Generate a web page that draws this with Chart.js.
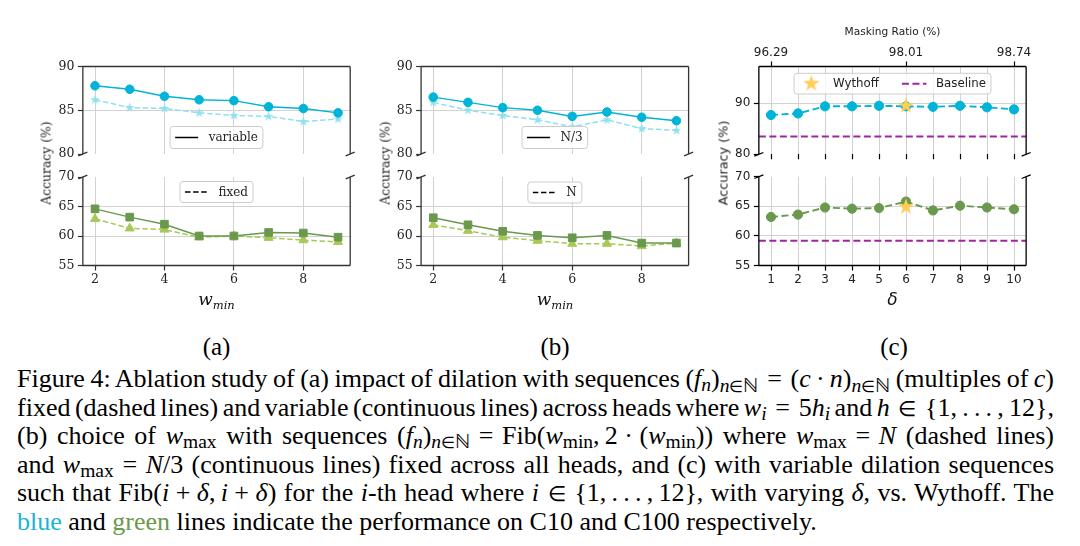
<!DOCTYPE html>
<html><head><meta charset="utf-8">
<script src="https://cdn.jsdelivr.net/npm/chart.js@4.4.1/dist/chart.umd.min.js"></script>
<style>
html,body{margin:0;padding:0;background:#fff;width:1080px;height:546px;overflow:hidden;position:relative}
canvas{position:absolute}
.t{position:absolute;white-space:nowrap;color:#111;z-index:5}
.ylab{position:absolute;white-space:nowrap;font-size:12.4px;color:#222;transform:translate(-50%,-50%) rotate(-90deg);z-index:5}
.cap{position:absolute;left:17px;font-family:'Liberation Serif',serif;font-size:26px;line-height:28px;white-space:nowrap;color:#000;z-index:5}
.cap sub{font-size:0.75em;vertical-align:-0.22em;line-height:0}
.cap .in{font-size:0.8em}
.plab{position:absolute;font-family:'Liberation Serif',serif;font-size:25px;line-height:28px;transform:translateX(-50%);z-index:5}
</style></head><body>
<script>
// ---------------- data ----------------
const wmin = [2, 3, 4, 5, 6, 7, 8, 9];
const xTicksAB = [2, 4, 6, 8];
// (a) dilation: variable (solid) vs fixed (dashed)
const aVariableC10  = [87.8, 87.4, 86.6, 86.2, 86.1, 85.4, 85.2, 84.7];
const aFixedC10     = [86.2, 85.3, 85.2, 84.7, 84.4, 84.3, 83.7, 84.0];
const aVariableC100 = [64.6, 63.2, 62.0, 60.0, 60.0, 60.6, 60.5, 59.8];
const aFixedC100    = [62.9, 61.3, 61.1, 59.8, 60.0, 59.7, 59.3, 59.0];
// (b) w_max: N/3 (solid) vs N (dashed)
const bN3C10  = [86.5, 85.9, 85.3, 85.0, 84.3, 84.8, 84.2, 83.8];
const bNC10   = [85.9, 85.0, 84.4, 83.9, 83.1, 83.9, 82.9, 82.7];
const bN3C100 = [63.1, 61.9, 60.8, 60.1, 59.7, 60.1, 58.8, 58.8];
const bNC100  = [61.9, 60.9, 59.8, 59.2, 58.7, 58.7, 58.3, 58.8];
// (c) delta
const delta = [1, 2, 3, 4, 5, 6, 7, 8, 9, 10];
const cC10  = [87.7, 88.0, 89.4, 89.4, 89.5, 89.4, 89.3, 89.5, 89.2, 88.8];
const cC100 = [63.2, 63.6, 64.8, 64.6, 64.7, 65.8, 64.3, 65.1, 64.8, 64.5];
const wythoffDelta = [6];
const wythoffC10  = [89.5];
const wythoffC100 = [64.9];
const baselineC10  = 83.5;
const baselineC100 = 59.2;
const maskTicks  = [1, 6, 10];
const maskLabels = ['96.29', '98.01', '98.74'];
const yTicksTop = [80, 85, 90];
const yTicksBot = [55, 60, 65, 70];
const yTicksTopC = [80, 90];

// ---------------- style ----------------
const BLUE = '#00b4d8', LBLUE = '#90e0ef', GREEN = '#6a994e', LGREEN = '#a7c957';
const PURPLE = '#9c27a0', GOLD = '#ffce54', GRID = '#d2d2d2';
Chart.defaults.font.family = 'DejaVu Sans';
Chart.defaults.color = '#222';

function pts(xs, ys) { return xs.map((x, i) => ({x: x, y: ys[i]})); }

function starImg(d, color) {
  const c = document.createElement('canvas'); c.width = c.height = d;
  const g = c.getContext('2d'); const R = d / 2 - 0.3, r = R * 0.382;
  g.beginPath();
  for (let i = 0; i < 10; i++) {
    const a = -Math.PI / 2 + i * Math.PI / 5, rr = i % 2 ? r : R;
    g.lineTo(d / 2 + rr * Math.cos(a), d / 2 + rr * Math.sin(a));
  }
  g.closePath(); g.fillStyle = color; g.fill();
  return c;
}
const smallStar = starImg(11, LBLUE);
const bigStar = starImg(18, GOLD);

function mkCanvas(box) {
  const c = document.createElement('canvas');
  c.width = box[2] - box[0]; c.height = box[3] - box[1];
  c.style.left = box[0] + 'px'; c.style.top = box[1] + 'px';
  document.body.appendChild(c); return c;
}

function framePlugin(o) {
  return {id: 'frame', afterDraw(chart) {
    const ctx = chart.ctx, a = chart.chartArea;
    ctx.save(); ctx.strokeStyle = o.color; ctx.lineWidth = 1.3; ctx.setLineDash([]);
    ctx.beginPath();
    if (o.sides.includes('top')) { ctx.moveTo(a.left, a.top); ctx.lineTo(a.right, a.top); }
    if (o.sides.includes('bottom')) { ctx.moveTo(a.left, a.bottom); ctx.lineTo(a.right, a.bottom); }
    ctx.moveTo(a.left, a.top); ctx.lineTo(a.left, a.bottom);
    ctx.moveTo(a.right, a.top); ctx.lineTo(a.right, a.bottom);
    ctx.stroke();
    const y = o.brk === 'bottom' ? a.bottom : a.top;
    ctx.beginPath();
    [a.left, a.right].forEach(x => { ctx.moveTo(x - 4.5, y + 1.8); ctx.lineTo(x + 4.5, y - 1.8); });
    ctx.stroke();
    ctx.restore();
  }};
}

function legendPlugin(o) {
  return {id: 'boxlegend', afterDatasetsDraw(chart) {
    if (!o || !o.items || !o.items.length) return;
    const ctx = chart.ctx, a = chart.chartArea;
    ctx.save(); ctx.font = o.font;
    const padX = 5, hl = o.hl || 23, hg = o.hg || 10.5, colGap = o.colGap || 22, h = o.h || 21.5;
    const widths = o.items.map(it => hl + hg + ctx.measureText(it.text).width);
    const W = padX * 2 + widths.reduce((s, v) => s + v, 0) + colGap * (o.items.length - 1);
    const x0 = (a.left + a.right) / 2 - W / 2;
    const y0 = o.loc === 'lower' ? a.bottom - o.off - h : a.top + o.off;
    ctx.beginPath(); ctx.roundRect(x0, y0, W, h, 3);
    ctx.fillStyle = 'rgba(255,255,255,0.8)'; ctx.fill();
    ctx.strokeStyle = '#cccccc'; ctx.lineWidth = 1; ctx.stroke();
    let x = x0 + padX; const yc = y0 + h / 2;
    o.items.forEach((it, i) => {
      if (it.img) {
        ctx.drawImage(it.img, x + hl / 2 - it.img.width / 2, yc - it.img.height / 2);
      } else {
        ctx.beginPath(); ctx.setLineDash(it.dash || []); ctx.strokeStyle = it.color; ctx.lineWidth = it.lw || 1.5;
        ctx.moveTo(x, yc); ctx.lineTo(x + hl, yc); ctx.stroke(); ctx.setLineDash([]);
      }
      ctx.fillStyle = '#222'; ctx.textBaseline = 'middle'; ctx.textAlign = 'left';
      ctx.fillText(it.text, x + hl + hg, yc + 0.5);
      x += widths[i] + colGap;
    });
    ctx.restore();
  }};
}

function yScale(min, max, ticks, padL, family, fsize, tcol) {
  return {type: 'linear', position: 'left', min: min, max: max,
    afterBuildTicks: s => { s.ticks = ticks.map(v => ({value: v})); },
    afterFit: s => { s.width = padL; },
    ticks: {font: {family: family, size: fsize}, color: '#222', padding: 3.5},
    grid: {color: c => (c.tick && (c.tick.value === min || c.tick.value === max)) ? 'rgba(0,0,0,0)' : GRID,
           lineWidth: 1, tickColor: tcol, tickLength: 5, tickWidth: 1.2, drawTicks: true},
    border: {display: false}};
}
function xScale(min, max, ticks, padB, family, fsize, tcol, showLabels, drawTicks, title) {
  return {type: 'linear', position: 'bottom', min: min, max: max,
    afterBuildTicks: s => { s.ticks = ticks.map(v => ({value: v})); },
    afterFit: s => { s.height = padB; },
    ticks: {display: showLabels, font: {family: family, size: fsize}, color: '#222', padding: 2, autoSkip: false, maxRotation: 0},
    grid: {color: GRID, lineWidth: 1, tickColor: tcol, tickLength: 5, tickWidth: 1.2, drawTicks: drawTicks},
    title: title || {display: false},
    border: {display: false}};
}

function line(data, color, opt) {
  return Object.assign({data: data, borderColor: color, backgroundColor: color, pointBackgroundColor: color,
    pointBorderColor: color, borderWidth: 1.5, pointRadius: 4.3, pointBorderWidth: 1, tension: 0, fill: false}, opt);
}

function panel(box, rect, cfg) {
  const c = mkCanvas(box);
  const padL = rect[0] - box[0], padT = rect[1] - box[1], padR = box[2] - rect[2], padB = box[3] - rect[3];
  const scales = {
    x: xScale(cfg.xmin, cfg.xmax, cfg.xticks, padB, cfg.family, cfg.fsize, cfg.tcol, cfg.xlabels, cfg.xdrawTicks, cfg.xtitle),
    y: yScale(cfg.ymin, cfg.ymax, cfg.yticks, padL, cfg.family, cfg.fsize, cfg.tcol)
  };
  if (cfg.top) {
    scales.xTop = {type: 'linear', position: 'top', min: cfg.xmin, max: cfg.xmax,
      afterBuildTicks: s => { s.ticks = cfg.top.ticks.map(v => ({value: v})); },
      afterFit: s => { s.height = padT; },
      ticks: {font: {family: cfg.family, size: cfg.fsize}, color: '#222', padding: 1.5, autoSkip: false, maxRotation: 0,
              callback: v => cfg.top.labels[cfg.top.ticks.indexOf(v)]},
      grid: {drawOnChartArea: false, tickColor: cfg.tcol, tickLength: 5, tickWidth: 1.2},
      title: {display: true, text: cfg.top.title, font: {family: cfg.family, size: 10.6}, color: '#222', padding: {top: 32.7 - box[1] - 6.4, bottom: 0}},
      border: {display: false}};
  }
  return new Chart(c, {
    type: 'line',
    data: {datasets: cfg.datasets},
    options: {responsive: false, animation: false, events: [], devicePixelRatio: 1,
      layout: {padding: {left: 0, right: padR, top: cfg.top ? 0 : padT, bottom: 0}},
      plugins: {legend: {display: false}, tooltip: {enabled: false}},
      scales: scales},
    plugins: [framePlugin({sides: cfg.sides, color: cfg.tcol, brk: cfg.brk}), legendPlugin(cfg.legend)]
  });
}

const TOPY = [66.5, 156.5], BOTY = [175.5, 265.5];
const AX = [82.85, 350.2], BX = [421.1, 688.6], CX = [758.85, 1026.15];
const SERIF = 'DejaVu Serif', SANS = 'DejaVu Sans';
const dashLight = {borderDash: [5.5, 2.6]};

// (a) top
panel([36, 55, 365, 165], [AX[0], TOPY[0], AX[1], TOPY[1]], {
  xmin: 1.65, xmax: 9.35, xticks: xTicksAB, ymin: 80, ymax: 90, yticks: yTicksTop, family: SERIF, fsize: 12.5, tcol: '#333',
  xlabels: false, xdrawTicks: false, sides: ['top'], brk: 'bottom',
  legend: {loc: 'lower', off: 5.5, h: 22, font: '12px "DejaVu Serif"', items: [{text: 'variable', color: '#000'}]},
  datasets: [line(pts(wmin, aVariableC10), BLUE, {order: 0}),
             line(pts(wmin, aFixedC10), LBLUE, Object.assign({order: 1, pointStyle: smallStar}, dashLight))]
});
// (a) bottom
panel([36, 166, 365, 292], [AX[0], BOTY[0], AX[1], BOTY[1]], {
  xmin: 1.65, xmax: 9.35, xticks: xTicksAB, ymin: 55, ymax: 70, yticks: yTicksBot, family: SERIF, fsize: 12.5, tcol: '#333',
  xlabels: true, xdrawTicks: true, sides: ['bottom'], brk: 'top',
  legend: {loc: 'upper', off: 4.5, h: 21, font: '12px "DejaVu Serif"', items: [{text: 'fixed', color: '#000', dash: [5.5, 2.6]}]},
  datasets: [line(pts(wmin, aVariableC100), GREEN, {order: 0, pointStyle: 'rect', pointRadius: 5.4}),
             line(pts(wmin, aFixedC100), LGREEN, Object.assign({order: 1, pointStyle: 'triangle', pointRadius: 5.2}, dashLight))]
});
// (b) top
panel([375, 55, 704, 165], [BX[0], TOPY[0], BX[1], TOPY[1]], {
  xmin: 1.65, xmax: 9.35, xticks: xTicksAB, ymin: 80, ymax: 90, yticks: yTicksTop, family: SERIF, fsize: 12.5, tcol: '#333',
  xlabels: false, xdrawTicks: false, sides: ['top'], brk: 'bottom',
  legend: {loc: 'lower', off: 5.5, h: 22, font: '12px "DejaVu Serif"', items: [{text: 'N/3', color: '#000'}]},
  datasets: [line(pts(wmin, bN3C10), BLUE, {order: 0}),
             line(pts(wmin, bNC10), LBLUE, Object.assign({order: 1, pointStyle: smallStar}, dashLight))]
});
// (b) bottom
panel([375, 166, 704, 292], [BX[0], BOTY[0], BX[1], BOTY[1]], {
  xmin: 1.65, xmax: 9.35, xticks: xTicksAB, ymin: 55, ymax: 70, yticks: yTicksBot, family: SERIF, fsize: 12.5, tcol: '#333',
  xlabels: true, xdrawTicks: true, sides: ['bottom'], brk: 'top',
  legend: {loc: 'upper', off: 5, h: 21, font: '12px "DejaVu Serif"', items: [{text: 'N', color: '#000', dash: [5.5, 2.6]}]},
  datasets: [line(pts(wmin, bN3C100), GREEN, {order: 0, pointStyle: 'rect', pointRadius: 5.4}),
             line(pts(wmin, bNC100), LGREEN, Object.assign({order: 1, pointStyle: 'triangle', pointRadius: 5.2}, dashLight))]
});
// (c) top
const dashC = {borderDash: [7, 3.5], borderWidth: 1.9, pointRadius: 4.6};
panel([713, 18, 1065, 165], [CX[0], TOPY[0], CX[1], TOPY[1]], {
  xmin: 0.55, xmax: 10.45, xticks: delta, ymin: 80, ymax: 97.2, yticks: yTicksTopC, family: SANS, fsize: 12, tcol: '#000',
  xlabels: false, xdrawTicks: true, sides: ['top'], brk: 'bottom',
  top: {ticks: maskTicks, labels: maskLabels, title: 'Masking Ratio (%)'},
  legend: {loc: 'upper', off: 6.8, h: 20.7, hl: 24.5, hg: 9.5, colGap: 23, font: '11.8px "DejaVu Sans"',
           items: [{text: 'Wythoff', img: bigStar}, {text: 'Baseline', color: PURPLE, dash: [7, 3.5], lw: 2}]},
  datasets: [
    line(pts(wythoffDelta, wythoffC10), GOLD, {order: 0, pointStyle: bigStar, showLine: false}),
    line(pts(delta, cC10), BLUE, Object.assign({order: 1}, dashC)),
    line(pts([0.55, 10.45], [baselineC10, baselineC10]), PURPLE, {order: 2, borderDash: [7, 3.5], borderWidth: 2, pointRadius: 0})
  ]
});
// (c) bottom
panel([713, 166, 1065, 314], [CX[0], BOTY[0], CX[1], BOTY[1]], {
  xmin: 0.55, xmax: 10.45, xticks: delta, ymin: 55, ymax: 70, yticks: yTicksBot, family: SANS, fsize: 12, tcol: '#000',
  xlabels: true, xdrawTicks: true, sides: ['bottom'], brk: 'top',
  xtitle: {display: true, text: 'δ', font: {family: SANS, style: 'italic', size: 17}, color: '#111', padding: {top: 0, bottom: 2.8}},
  legend: null,
  datasets: [
    line(pts(wythoffDelta, wythoffC100), GOLD, {order: 0, pointStyle: bigStar, showLine: false}),
    line(pts(delta, cC100), GREEN, Object.assign({order: 1}, dashC)),
    line(pts([0.55, 10.45], [baselineC100, baselineC100]), PURPLE, {order: 2, borderDash: [7, 3.5], borderWidth: 2, pointRadius: 0})
  ]
});
</script>

<div class="ylab" style="left:46px;top:163px;font-family:'DejaVu Serif'">Accuracy (%)</div>
<div class="ylab" style="left:385px;top:163px;font-family:'DejaVu Serif'">Accuracy (%)</div>
<div class="ylab" style="left:722.5px;top:163px;font-family:'DejaVu Sans';font-size:12.8px">Accuracy (%)</div>

<div class="t" style="left:216.5px;top:300px;transform:translate(-50%,-50%);font-family:'DejaVu Serif';font-style:italic;font-size:17px;line-height:20px">w<span style="font-size:11.5px;position:relative;top:4px">min</span></div>
<div class="t" style="left:555px;top:300px;transform:translate(-50%,-50%);font-family:'DejaVu Serif';font-style:italic;font-size:17px;line-height:20px">w<span style="font-size:11.5px;position:relative;top:4px">min</span></div>

<div class="plab" style="left:216.5px;top:332.7px">(a)</div>
<div class="plab" style="left:555px;top:332.7px">(b)</div>
<div class="plab" style="left:894px;top:332.7px">(c)</div>

<div class="cap j" style="top:365.3px">Figure 4: Ablation study of (a) impact of dilation with sequences (<i>f</i><sub><i>n</i></sub>)<sub><i>n</i><span class="in">∈</span>ℕ</sub>&#8196;=&#8196;(<i>c</i>&#8201;·&#8201;<i>n</i>)<sub><i>n</i><span class="in">∈</span>ℕ</sub> (multiples of <i>c</i>)</div>
<div class="cap j" style="top:393.8px">fixed (dashed lines) and variable (continuous lines) across heads where <i>w</i><sub><i>i</i></sub>&#8196;=&#8196;5<i>h</i><sub><i>i</i></sub> and <i>h</i>&#8196;<span class="in">∈</span>&#8196;{1,&#8201;.&#8201;.&#8201;.&#8201;,&#8201;12},</div>
<div class="cap j" style="top:422.2px">(b) choice of <i>w</i><sub>max</sub> with sequences (<i>f</i><sub><i>n</i></sub>)<sub><i>n</i><span class="in">∈</span>ℕ</sub>&#8196;=&#8196;Fib(<i>w</i><sub>min</sub>,&#8201;2&#8197;·&#8197;(<i>w</i><sub>min</sub>)) where <i>w</i><sub>max</sub>&#8196;=&#8196;<i>N</i> (dashed lines)</div>
<div class="cap j" style="top:450.7px">and <i>w</i><sub>max</sub>&#8196;=&#8196;<i>N</i>/3 (continuous lines) fixed across all heads, and (c) with variable dilation sequences</div>
<div class="cap j" style="top:479.1px">such that Fib(<i>i</i>&#8197;+&#8197;<i>δ</i>,&#8201;<i>i</i>&#8197;+&#8197;<i>δ</i>) for the <i>i</i>-th head where <i>i</i>&#8196;<span class="in">∈</span>&#8196;{1,&#8201;.&#8201;.&#8201;.&#8201;,&#8201;12}, with varying <i>δ</i>, vs. Wythoff. The</div>
<div class="cap" style="top:507.6px"><span style="color:#1ab4d8">blue</span> and <span style="color:#6a994e">green</span> lines indicate the performance on C10 and C100 respectively.</div>

<script>
document.querySelectorAll('.cap.j').forEach(el => {
  const target = 1037;
  const w = el.getBoundingClientRect().width;
  const n = (el.textContent.match(/ /g) || []).length;
  if (n) el.style.wordSpacing = ((target - w) / n) + 'px';
});
</script>
</body></html>
